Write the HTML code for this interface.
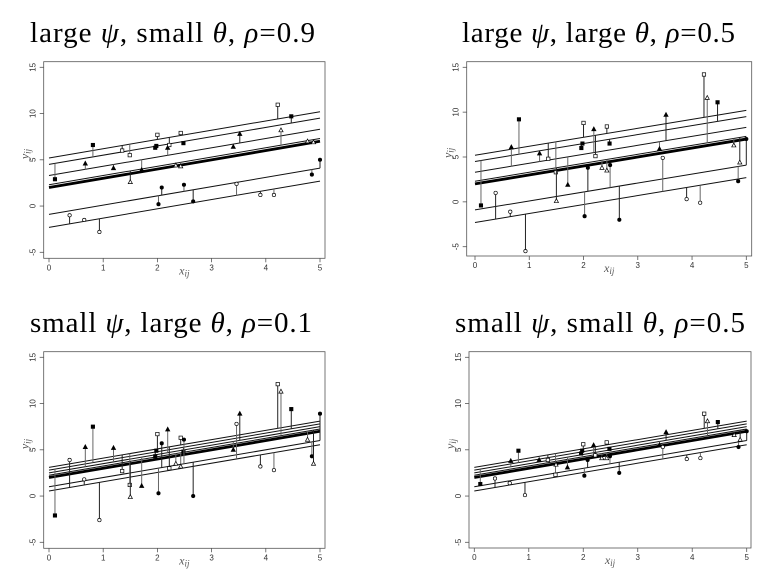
<!DOCTYPE html>
<html><head><meta charset="utf-8"><style>
body{margin:0;background:#fff;}
svg{display:block;}
</style></head><body>
<svg id="fig" width="775" height="587" viewBox="0 0 775 587" xmlns="http://www.w3.org/2000/svg"></svg>
<script>
const xVals=[0.11,0.38,0.67,0.65,0.81,0.93,1.19,1.35,1.49,1.5,1.71,1.96,1.98,2.0,2.02,2.08,2.19,2.22,2.34,2.43,2.43,2.48,2.49,2.66,3.4,3.52,3.46,3.9,4.15,4.22,4.28,4.47,4.85,4.88,4.77,5.0];
const groups=[1,5,2,5,1,5,2,0,0,3,2,1,1,0,4,4,2,0,3,0,3,1,4,4,2,2,5,5,5,0,3,1,4,3,3,4];
const markers=['osq','fsq','ftri','otri','fcir','ocir'];
const interceptsLargePsi=[5.2,4.5,3.3,2.3,-0.9,-2.3];
const interceptsSmallPsi=[3.1,2.8,2.5,2.25,1.0,0.55];
const yPanel1=[2.9,-1.0,4.6,-1.5,6.6,-2.8,4.1,6.0,5.5,2.6,3.9,6.3,6.5,7.7,0.2,2.0,6.3,6.6,4.4,7.9,4.3,6.8,2.3,0.5,6.4,7.8,2.4,1.2,1.2,10.95,8.2,9.7,3.4,6.9,7.0,5.0];
const yPanel2=[-0.4,1.0,6.1,-1.1,9.2,-5.5,5.4,4.8,3.3,0.1,1.9,6.0,6.5,8.8,-1.6,3.8,8.1,5.1,3.8,8.4,3.5,6.5,4.1,-2.0,5.9,9.7,4.9,0.3,-0.1,14.2,11.6,11.1,2.3,4.4,6.3,7.0];
const yPanel3=[-2.1,3.9,5.3,1.8,7.5,-2.6,5.2,2.7,1.2,-0.1,1.1,4.3,4.9,6.7,0.3,5.7,7.2,3.0,3.5,6.3,3.2,4.8,6.1,0.0,5.0,8.9,7.8,3.2,2.8,12.1,11.3,9.4,4.3,3.5,6.1,8.9];
const yPanel4=[1.3,1.9,3.8,1.4,4.9,0.1,3.9,3.9,2.3,3.4,3.1,4.6,4.9,5.6,2.2,3.9,5.5,4.4,4.1,5.8,4.1,5.1,4.3,2.5,5.5,6.9,5.3,4.0,4.1,8.9,8.1,8.0,5.3,6.1,6.6,7.0];
const xTicks=[0,1,2,3,4,5];
const yTicks=[-5,0,5,10,15];
const fixedIntercept=2, fixedSlope=1;

const NS='http://www.w3.org/2000/svg';
const svg=document.getElementById('fig');
function mk(tag,attrs,parent){const e=document.createElementNS(NS,tag);for(const k in attrs)e.setAttribute(k,attrs[k]);(parent||svg).appendChild(e);return e;}

const panels=[
 {id:'p1',title:['large ','\u03C8',', small ','\u03B8',', ','\u03C1','=0.9'],tx:30,ty:42,tw:285,x0:49,x5:320,y15:67.3,ym5:252.3,box:[43.7,61.7,325,258.3],ints:interceptsLargePsi,ys:yPanel1},
 {id:'p2',title:['large ','\u03C8',', large ','\u03B8',', ','\u03C1','=0.5'],tx:462,ty:42,tw:273,x0:475,x5:746.3,y15:67.3,ym5:246.7,box:[466.7,61.7,751.7,256],ints:interceptsLargePsi,ys:yPanel2},
 {id:'p3',title:['small ','\u03C8',', large ','\u03B8',', ','\u03C1','=0.1'],tx:30,ty:332,tw:282,x0:49,x5:320,y15:357.3,ym5:542.3,box:[43.7,351.7,325,548.3],ints:interceptsSmallPsi,ys:yPanel3},
 {id:'p4',title:['small ','\u03C8',', small ','\u03B8',', ','\u03C1','=0.5'],tx:455,ty:332,tw:290,x0:474.3,x5:746.7,y15:357.3,ym5:542.3,box:[469,351.7,751,548],ints:interceptsSmallPsi,ys:yPanel4}
];

panels.forEach((p,pi)=>{
 const g=mk('g',{});
 
 
 const X=v=>p.x0+(p.x5-p.x0)*v/5;
 const Y=v=>p.ym5+(p.y15-p.ym5)*(v+5)/20;
 const t=mk('text',{x:p.tx,y:p.ty,'font-family':'"Liberation Serif",serif','font-size':'29',fill:'#000',textLength:p.tw,lengthAdjust:'spacing'},g);
 t.innerHTML=p.title.map((s,k)=>k%2?`<tspan font-style="italic">${s}</tspan>`:s).join('');
 
 
 const [bl,bt,br,bb]=p.box;
 const box=mk('rect',{x:bl,y:bt,width:br-bl,height:bb-bt,fill:'none',stroke:'#555','stroke-width':'0.8'},g);
 
 
 xTicks.forEach(v=>{
  mk('line',{x1:X(v),x2:X(v),y1:bb,y2:bb+4,stroke:'#555','stroke-width':'0.8'},g);
  const l=mk('text',{x:X(v),y:bb+12,'font-family':'"Liberation Sans",sans-serif','font-size':'8','text-anchor':'middle',fill:'#333'},g);
  l.textContent=v;
  
  
 });
 yTicks.forEach(v=>{
  mk('line',{x1:bl-4,x2:bl,y1:Y(v),y2:Y(v),stroke:'#555','stroke-width':'0.8'},g);
  const lx=bl-8;
  const l=mk('text',{x:lx,y:Y(v),'font-family':'"Liberation Sans",sans-serif','font-size':'8','text-anchor':'middle',fill:'#333',transform:`rotate(-90 ${lx} ${Y(v)})`},g);
  l.textContent=v;
  
  
 });
 const xl=mk('text',{x:(bl+br)/2-0,y:bb+16,'font-family':'"Liberation Serif",serif','font-size':'12','font-style':'italic','text-anchor':'middle',fill:'#555'},g);
 xl.innerHTML='x<tspan font-size="9" dy="2">ij</tspan>';
 
 
 const yx=bl-15, yy=(bt+bb)/2-6;
 const yl=mk('text',{x:yx,y:yy,'font-family':'"Liberation Serif",serif','font-size':'12','font-style':'italic','text-anchor':'middle',fill:'#555',transform:`rotate(-90 ${yx} ${yy})`},g);
 yl.innerHTML='y<tspan font-size="9" dy="2">ij</tspan>';
 
 
 p.ints.forEach((b,gi)=>{
  const ln=mk('line',{x1:X(0),x2:X(5),y1:Y(b),y2:Y(b+fixedSlope*5),stroke:'#111','stroke-width':'1'},g);
  
  
 });
 const fl=mk('line',{x1:X(0),x2:X(5),y1:Y(fixedIntercept),y2:Y(fixedIntercept+fixedSlope*5),stroke:'#000','stroke-width':'2.8'},g);
 
 
 xVals.forEach((xv,i)=>{
  const gi=groups[i], yv=p.ys[i];
  const lineY=p.ints[gi]+fixedSlope*xv;
  const seg=mk('line',{x1:X(xv),x2:X(xv),y1:Y(yv),y2:Y(lineY),stroke:i%2?'#222':'#666','stroke-width':'1'},g);
  
  
  const m=markers[gi], cx=X(xv), cy=Y(yv);
  const fill=m[0]==='f'?'#000':'#fff';
  let e;
  if(m.endsWith('sq')) e=mk('rect',{x:cx-1.7,y:cy-1.7,width:3.4,height:3.4,fill:fill,stroke:'#000','stroke-width':'0.7'},g);
  else if(m.endsWith('tri')) e=mk('polygon',{points:`${cx},${cy-2.3} ${cx-2.1},${cy+1.6} ${cx+2.1},${cy+1.6}`,fill:fill,stroke:'#000','stroke-width':'0.7'},g);
  else e=mk('circle',{cx:cx,cy:cy,r:1.7,fill:fill,stroke:'#000','stroke-width':'0.7'},g);
  
  
 });
});
</script>
</body></html>
